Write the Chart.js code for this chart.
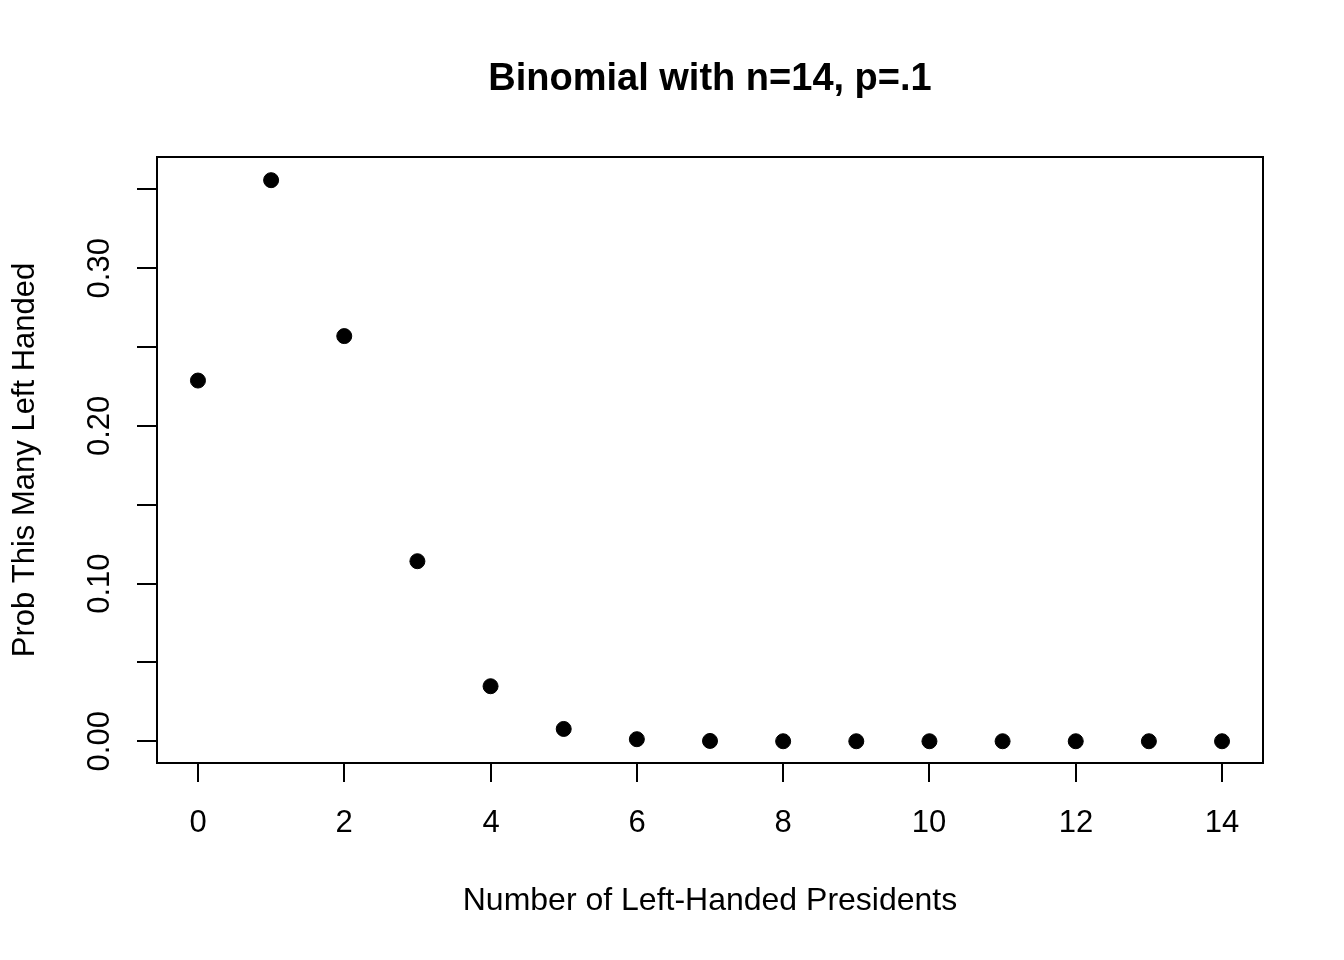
<!DOCTYPE html>
<html>
<head>
<meta charset="utf-8">
<script src="https://cdn.jsdelivr.net/npm/chart.js@4"></script>
<style>
  html, body { margin: 0; padding: 0; background: #fff; }
  canvas { display: block; }
</style>
</head>
<body>
<canvas id="plot" width="1344" height="960"></canvas>
<script>
// number of left-handed presidents (0..14) and probability
var counts = [0, 1, 2, 3, 4, 5, 6, 7, 8, 9, 10, 11, 12, 13, 14];
var probs = [0.2288, 0.3559, 0.2570, 0.1142, 0.0349, 0.0078, 0.0013, 0.0002, 0.0000, 0.0000, 0.0000, 0.0000, 0.0000, 0.0000, 0.0000];

var xTicks = [0, 2, 4, 6, 8, 10, 12, 14];
var yTicks = [0, 0.05, 0.10, 0.15, 0.20, 0.25, 0.30, 0.35];
var yLabels = ["0.00", "0.10", "0.20", "0.30"];

var titleText = "Binomial with n=14, p=.1";
var xTitle = "Number of Left-Handed Presidents";
var yTitle = "Prob This Many Left Handed";

var FONT = '"Liberation Sans", Arial, Helvetica, sans-serif';

var points = [];
for (var i = 0; i < counts.length; i++) {
  points.push({ x: counts[i], y: probs[i] });
}

// R-style box, ticks and labels drawn on top of the library's scales
var baseAxes = {
  id: 'baseAxes',
  afterDraw: function (chart) {
    var ctx = chart.ctx;
    var a = chart.chartArea;
    var xs = chart.scales.x;
    var ys = chart.scales.y;
    ctx.save();
    ctx.strokeStyle = '#000';
    ctx.fillStyle = '#000';
    ctx.lineWidth = 2;
    ctx.strokeRect(a.left, a.top, a.right - a.left, a.bottom - a.top);

    // x axis
    ctx.font = '31px ' + FONT;
    ctx.textAlign = 'center';
    ctx.textBaseline = 'middle';
    xTicks.forEach(function (v) {
      var px = Math.round(xs.getPixelForValue(v));
      ctx.beginPath();
      ctx.moveTo(px, a.bottom);
      ctx.lineTo(px, a.bottom + 19);
      ctx.stroke();
      ctx.fillText(String(v), px, a.bottom + 60);
    });

    // y axis
    yTicks.forEach(function (v) {
      var py = Math.round(ys.getPixelForValue(v));
      ctx.beginPath();
      ctx.moveTo(a.left, py);
      ctx.lineTo(a.left - 20, py);
      ctx.stroke();
    });
    yLabels.forEach(function (s) {
      var py = ys.getPixelForValue(parseFloat(s));
      ctx.save();
      ctx.translate(a.left - 57, py);
      ctx.rotate(-Math.PI / 2);
      ctx.fillText(s, 0, 0);
      ctx.restore();
    });

    // axis titles
    var cx = (a.left + a.right) / 2;
    var cy = (a.top + a.bottom) / 2;
    ctx.font = '32px ' + FONT;
    ctx.fillText(xTitle, cx, 901);
    ctx.font = '31px ' + FONT;
    ctx.save();
    ctx.translate(25, cy);
    ctx.rotate(-Math.PI / 2);
    ctx.fillText(yTitle, 0, 0);
    ctx.restore();

    // main title
    ctx.font = 'bold 38px ' + FONT;
    ctx.fillText(titleText, cx, 80);
    ctx.restore();
  }
};

new Chart(document.getElementById('plot'), {
  type: 'scatter',
  data: {
    datasets: [{
      data: points,
      backgroundColor: '#000',
      borderColor: '#000',
      pointRadius: 7.5,
      pointHoverRadius: 7.5
    }]
  },
  options: {
    responsive: false,
    animation: false,
    devicePixelRatio: 1,
    layout: { padding: { left: 157, right: 81, top: 157, bottom: 197 } },
    plugins: { legend: { display: false }, tooltip: { enabled: false } },
    scales: {
      x: { type: 'linear', display: false, min: -0.56, max: 14.56 },
      y: { type: 'linear', display: false, min: -0.0138, max: 0.3706 }
    }
  },
  plugins: [baseAxes]
});
</script>
</body>
</html>
